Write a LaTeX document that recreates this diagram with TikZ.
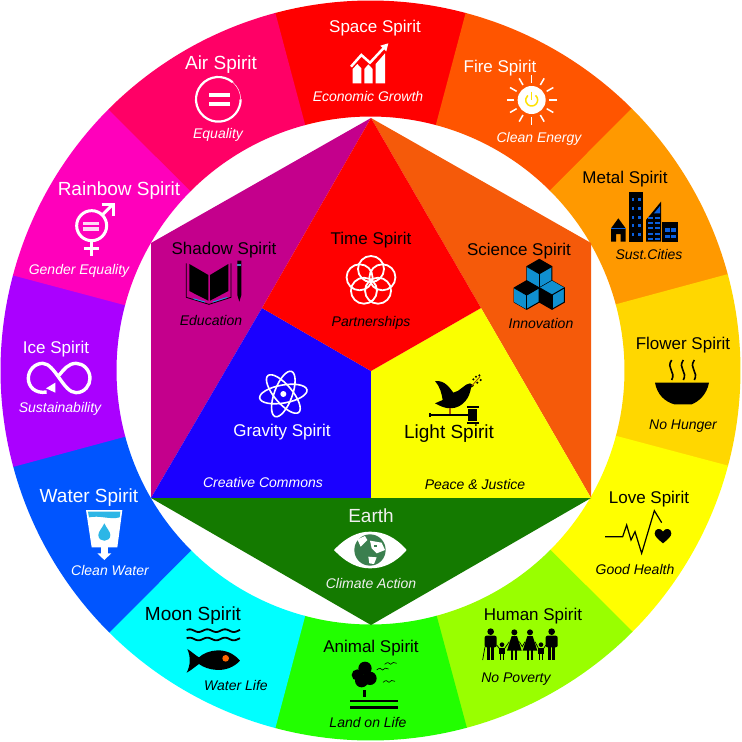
\documentclass[tikz,border=0pt]{standalone}
\usepackage{fontspec}
\setmainfont{Liberation Sans}
\definecolor{spaceCol}{HTML}{FF0000}
\definecolor{fireCol}{HTML}{FF5500}
\definecolor{metalCol}{HTML}{FF9900}
\definecolor{flowerCol}{HTML}{FFD700}
\definecolor{loveCol}{HTML}{FFFF00}
\definecolor{humanCol}{HTML}{99FF00}
\definecolor{animalCol}{HTML}{22FF00}
\definecolor{moonCol}{HTML}{00FFFF}
\definecolor{waterCol}{HTML}{0055FF}
\definecolor{iceCol}{HTML}{AA00FF}
\definecolor{rainbowCol}{HTML}{FF00BB}
\definecolor{airCol}{HTML}{FF0066}
\definecolor{shadowCol}{HTML}{C4008C}
\definecolor{gravityCol}{HTML}{1A00FF}
\definecolor{scienceCol}{HTML}{F55A0A}
\definecolor{earthCol}{HTML}{147A00}
\definecolor{lightCol}{HTML}{FAFF00}
\definecolor{globeCol}{HTML}{3B7F4F}
\definecolor{iconBlue}{HTML}{0A60E0}
\definecolor{cubeBlue}{HTML}{1090D0}
\definecolor{dropBlue}{HTML}{2DB6E6}
\tikzset{spirit/.style={font=\fontsize{17}{20}\selectfont,inner sep=0pt,text height=12pt,text depth=0pt}}
\tikzset{bigspirit/.style={font=\fontsize{19}{20}\selectfont,inner sep=0pt,text height=13pt,text depth=0pt}}
\tikzset{motto/.style={font=\fontsize{14}{16}\selectfont\itshape,inner sep=0pt,text height=10pt,text depth=0pt}}

\begin{document}
\begin{tikzpicture}[x=1pt,y=-1pt]
\useasboundingbox (0,0) rectangle (742,742);
\fill[white] (0,0) rectangle (742,742);

\begin{scope}[shift={(370.5,370.5)}]
\foreach \a/\c in {90/spaceCol,60/fireCol,30/metalCol,0/flowerCol,-30/loveCol,-60/humanCol,-90/animalCol,-120/moonCol,-150/waterCol,180/iceCol,150/rainbowCol,120/airCol}
  \fill[\c] ({\a-15.1}:254pt) arc[start angle=\a-15.1,end angle=\a+15.1,radius=254pt] -- ({\a+15.1}:370pt) arc[start angle=\a+15.1,end angle=\a-15.1,radius=370pt] -- cycle;
\end{scope}

\fill[scienceCol] (371,118) -- (591,243) -- (591,498) -- (481,308) -- cycle;
\fill[shadowCol] (371,118) -- (151,243) -- (151,498) -- (262,308) -- cycle;
\fill[gravityCol] (262,308) -- (371,371) -- (371,498) -- (151,498) -- cycle;
\fill[lightCol] (481,308) -- (371,371) -- (371,498) -- (591,498) -- cycle;
\fill[red] (371,118) -- (481,308) -- (371,371) -- (262,308) -- cycle;
\fill[earthCol] (151,498) -- (591,498) -- (371,625) -- cycle;

\node[spirit,white] (space) at (375,26) {Space Spirit};
\node[motto,white] (spaceb) at (368,96) {Economic Growth};
\node[spirit,white] (fire) at (500,66) {Fire Spirit};
\node[motto,white] (fireb) at (539,137) {Clean Energy};
\node[spirit] (metal) at (625,177) {Metal Spirit};
\node[motto] (metalb) at (649,254) {Sust.Cities};
\node[spirit] (flower) at (683,343) {Flower Spirit};
\node[motto] (flowerb) at (683,424) {No Hunger};
\node[spirit] (love) at (649,497) {Love Spirit};
\node[motto] (loveb) at (635,569) {Good Health};
\node[spirit] (human) at (533,614) {Human Spirit};
\node[motto] (humanb) at (516,677) {No Poverty};
\node[spirit] (animal) at (371,646) {Animal Spirit};
\node[motto] (animalb) at (368,722) {Land on Life};
\node[bigspirit] (moon) at (193,614) {Moon Spirit};
\node[motto] (moonb) at (236,685) {Water Life};
\node[bigspirit,white] (water) at (89,496) {Water Spirit};
\node[motto,white] (waterb) at (110,570) {Clean Water};
\node[spirit,white] (ice) at (56,347) {Ice Spirit};
\node[motto,white] (iceb) at (60,407) {Sustainability};
\node[bigspirit,white] (rainbow) at (119,189) {Rainbow Spirit};
\node[motto,white] (rainbowb) at (79,269) {Gender Equality};
\node[bigspirit,white] (air) at (221,63) {Air Spirit};
\node[motto,white] (airb) at (218,133) {Equality};
\node[spirit] (shadow) at (224,248) {Shadow Spirit};
\node[motto] (shadowb) at (211,320) {Education};
\node[spirit] (time) at (371,238) {Time Spirit};
\node[motto] (timeb) at (371,321) {Partnerships};
\node[spirit] (science) at (519,249) {Science Spirit};
\node[motto] (scienceb) at (541,323) {Innovation};
\node[spirit,white] (gravity) at (282,430) {Gravity Spirit};
\node[motto,white] (gravityb) at (263,482) {Creative Commons};
\node[bigspirit] (light) at (449,432) {Light Spirit};
\node[motto] (lightb) at (475,484) {Peace \& Justice};
\node[bigspirit,white!94!black] (earth) at (371,516) {Earth};
\node[motto,white!94!black] (earthb) at (371,583) {Climate Action};

% space and fire
\begin{scope}[shift={(270,0)},scale=1/3]
\fill[white] (248,250) -- (248,207) -- (262,192) -- (274,205) -- (274,250) -- cycle;
\fill[white] (283,250) -- (283,207) -- (295,193) -- (308,207) -- (308,250) -- cycle;
\fill[white] (317,250) -- (317,192) -- (345,160) -- (345,250) -- cycle;
\draw[white,line width=2.5pt] (243,200) -- (274,165) -- (300,188) -- (343,142);
\fill[white] (355,130) -- (331,137) -- (349,154) -- cycle;
\fill[white] (785,300) circle[radius=42];
\foreach \r in {0,30,...,330}
  \draw[white,line width=1.5pt,shift={(785,300)}] (\r:52pt) -- (\r:75pt);
\draw[yellow!85!orange,line width=1.5pt,shift={(785,300)}] (50:18pt) arc[start angle=50,end angle=-230,radius=18pt];
\draw[yellow!85!orange,line width=1.5pt] (785,275) -- (785,300);
\end{scope}

% air and rainbow
\begin{scope}[shift={(0,20)},scale=1/3]
\draw[white,line width=2.2pt,shift={(655,238)}] (50:67pt) arc[start angle=50,end angle=360,radius=67pt];
\draw[white,line width=.5pt,shift={(655,238)}] (0:67pt) arc[start angle=0,end angle=50,radius=67pt];
\fill[white] (627,220) rectangle (690,232);
\fill[white] (627,245) rectangle (690,257);
\draw[white,line width=3pt] (275,617) circle[radius=45];
\fill[white!85!rainbowCol] (250,605) rectangle (297,615);
\fill[white!85!rainbowCol] (250,622) rectangle (297,632);
\draw[white,line width=3.5pt] (275,662) -- (275,708);
\draw[white,line width=3.5pt] (252,685) -- (298,685);
\draw[white,line width=3pt] (305,587) -- (338,554);
\draw[white,line width=3pt] (305,553) -- (341,553) -- (341,588);
\end{scope}

% shadow and gravity
\begin{scope}[shift={(140,220)},scale=1/3]
\fill (148,132) -- (205,165) -- (205,242) -- (148,213) -- cycle;
\fill (210,165) -- (265,132) -- (265,213) -- (210,242) -- cycle;
\draw[line width=.8pt] (139,130) -- (139,232) -- (207,253) -- (273,232) -- (273,130);
\draw[cyan,line width=.8pt] (160,236) -- (195,246);
\draw[cyan,line width=.8pt] (218,246) -- (262,232);
\fill (292,122) -- (304,122) -- (304,225) -- (298,245) -- (292,225) -- cycle;
\fill[cyan!70!black] (292,131) rectangle (304,137);
\foreach \r in {10,70,130}
  \draw[white,line width=1.6pt,rotate around={\r:(430,522)}] (430,522) ellipse[x radius=72,y radius=27];
\fill[white] (430,522) circle[radius=9];
\end{scope}

% time
\foreach \r in {90,162,234,306,18}
  \draw[white,line width=1.8pt,shift={(371,281)}] (\r:12pt) circle[radius=13];

% science and light
\begin{scope}[shift={(370,220)},scale=1/3]
\foreach \cx/\cy/\tp/\lf in {508/161/black/cubeBlue,470/225/black/cubeBlue,546/225/cubeBlue/black}{
  \begin{scope}[shift={(\cx,\cy)},scale=1.13]
  \filldraw[fill=cubeBlue,line width=1pt] (0,-38) -- (33,-19) -- (33,19) -- (0,38) -- (-33,19) -- (-33,-19) -- cycle;
  \fill[\tp] (0,-38) -- (33,-19) -- (0,0) -- (-33,-19) -- cycle;
  \fill[\lf] (-33,-19) -- (0,0) -- (0,38) -- (-33,19) -- cycle;
  \draw[line width=1pt] (-33,-19) -- (0,0) -- (33,-19);
  \draw[line width=1pt] (0,0) -- (0,38);
  \end{scope}
}
\fill (195,483) .. controls (225,480) and (240,505) .. (250,518) .. controls (270,515) and (285,490) .. (300,490) -- (312,497) -- (303,503) .. controls (300,530) and (280,565) .. (240,565) .. controls (225,565) and (210,558) .. (195,550) -- (218,540) .. controls (215,520) and (210,500) .. (195,483) -- cycle;
\draw[orange!60!black,line width=.8pt] (305,498) -- (330,470);
\foreach \lx/\ly in {310/478,318/470,328/466,322/488,332/480}
  \fill (\lx,\ly) circle[radius=3.5];
\draw[orange!70!black,line width=1.5pt] (240,565) -- (240,582);
\draw[line width=1.5pt] (178,585) -- (295,585);
\fill (178,579) rectangle (182,591);
\fill (294,566) rectangle (322,604);
\fill (291,558) rectangle (326,564);
\fill (291,606) rectangle (326,611);
\end{scope}

% metal and flower
\begin{scope}[shift={(580,160)},scale=1/3]
\fill (93,205) -- (115,175) -- (137,205) -- (137,245) -- (122,245) -- (122,222) -- (108,222) -- (108,245) -- (93,245) -- cycle;
\fill[iconBlue] (93,203) rectangle (137,207);
\fill (147,95) rectangle (190,245);
\foreach \wy in {115,141,167,193,219} {
  \fill[iconBlue] (155,\wy) rectangle (163,\wy+9);
  \fill[iconBlue] (174,\wy) rectangle (183,\wy+9);
}
\fill (198,180) -- (243,125) -- (243,245) -- (198,245) -- cycle;
\fill[iconBlue] (222,160) -- (240,138) -- (240,160) -- cycle;
\foreach \wy in {168,183,200,218,233} {
  \fill[iconBlue] (203,\wy+2) rectangle (219,\wy+8);
  \fill[iconBlue] (224,\wy+2) rectangle (239,\wy+8);
}
\fill (247,185) rectangle (295,245);
\foreach \wy in {205,225} {
  \fill[iconBlue] (255,\wy) rectangle (269,\wy+10);
  \fill[iconBlue] (274,\wy) rectangle (289,\wy+10);
}
\fill (225,668) -- (387,668) .. controls (380,705) and (355,725) .. (335,733) -- (283,733) .. controls (255,725) and (232,705) .. (225,668) -- cycle;
\foreach \sx in {275,310,343}
  \draw[line width=1.6pt] (\sx,600) .. controls (\sx-18,625) and (\sx+14,635) .. (\sx,660);
\end{scope}

% love and human
\begin{scope}[shift={(470,470)},scale=1/3]
\draw[line width=1.2pt] (405,200) -- (458,200) -- (470,165) -- (483,210) -- (495,185) -- (515,250) -- (553,122) -- (575,158);
\fill (579,220) .. controls (565,208) and (554,200) .. (554,190) .. controls (554,175) and (572,172) .. (579,185) .. controls (586,172) and (604,175) .. (604,190) .. controls (604,200) and (593,208) .. (579,220) -- cycle;
\foreach \mx in {62,245} {
  \begin{scope}[shift={(\mx,0)}]
  \fill (0,485) circle[radius=10];
  \fill[rounded corners=2pt] (-18,497) rectangle (18,532);
  \fill (-11,525) rectangle (-2,570);
  \fill (2,525) rectangle (11,570);
  \end{scope}
}
\foreach \wx in {133,180} {
  \begin{scope}[shift={(\wx,0)}]
  \fill (0,487) circle[radius=9];
  \fill (-8,498) -- (8,498) -- (22,542) -- (-22,542) -- cycle;
  \fill (-9,540) rectangle (-3,570);
  \fill (3,540) rectangle (9,570);
  \end{scope}
}
\foreach \kx in {96,213} {
  \begin{scope}[shift={(\kx,0)}]
  \fill (0,524) circle[radius=7];
  \fill (-9,533) rectangle (9,552);
  \fill (-7,550) rectangle (-2,570);
  \fill (2,550) rectangle (7,570);
  \end{scope}
}
\draw[line width=.7pt] (45,530) -- (38,570);
\draw[line width=.7pt] (80,525) -- (90,538);
\draw[line width=.7pt] (102,538) -- (118,515);
\draw[line width=.7pt] (148,515) -- (157,530) -- (165,515);
\draw[line width=.7pt] (195,515) -- (207,538);
\draw[line width=.7pt] (219,538) -- (228,525);
\end{scope}

% earth and animal
\begin{scope}[shift={(270,500)},scale=1/3]
\fill[white] (192,150) .. controls (230,110) and (265,95) .. (300,95) .. controls (340,95) and (375,110) .. (410,150) .. controls (375,190) and (340,205) .. (300,205) .. controls (265,205) and (230,190) .. (192,150) -- cycle;
\fill[globeCol] (300,150) circle[radius=47];
\fill[white] (262,118) -- (285,108) -- (292,120) -- (272,140) -- cycle;
\fill[white] (300,122) -- (335,128) -- (345,150) -- (320,160) -- (305,145) -- cycle;
\fill[white] (295,170) -- (320,172) -- (312,192) -- (298,190) -- cycle;
\fill[globeCol] (312,135) rectangle (322,142);
\fill (285,505) circle[radius=20];
\fill (262,525) circle[radius=17];
\fill (300,535) circle[radius=20];
\fill (275,542) circle[radius=20];
\fill (280,570) rectangle (288,590);
\fill (240,600) rectangle (385,607);
\fill (240,618) rectangle (385,626);
\foreach \bx/\by in {338/507,362/490,357/544} {
  \draw[line width=.6pt,shift={(\bx,\by)}] (-18,3) .. controls (-10,-4) and (-5,-4) .. (0,3) .. controls (5,-4) and (10,-4) .. (18,0);
}
\end{scope}

% ice, water and moon
\begin{scope}[shift={(0,320)},scale=1/3]
\draw[white,line width=3.4pt] (140,216) .. controls (105,222) and (85,200) .. (85,175) .. controls (85,150) and (105,130) .. (128,130) .. controls (165,130) and (190,218) .. (228,218) .. controls (255,218) and (270,195) .. (270,175) .. controls (270,150) and (250,130) .. (228,130) .. controls (205,130) and (190,150) .. (178,165);
\fill[white] (166,188) -- (166,218) -- (138,205) -- cycle;
\fill[white] (258,570) -- (367,570) -- (352,682) -- (275,682) -- cycle;
\fill[dropBlue] (264,575) -- (361,575) -- (359,592) .. controls (330,600) and (300,585) .. (267,592) -- cycle;
\fill[dropBlue] (313,610) .. controls (320,625) and (331,635) .. (331,645) .. controls (331,668) and (295,668) .. (295,645) .. controls (295,635) and (306,625) .. (313,610) -- cycle;
\fill[white] (303,680) rectangle (323,702);
\fill[white] (292,700) -- (334,700) -- (313,720) -- cycle;
\foreach \wy in {932,957}
  \draw[line width=1.8pt] plot[domain=560:720,samples=60] (\x,{\wy+4*sin(6.8*\x)});
\fill (562,987) .. controls (575,995) and (585,1005) .. (597,1012) .. controls (620,990) and (680,975) .. (720,1022) .. controls (680,1065) and (620,1050) .. (597,1032) .. controls (585,1040) and (575,1050) .. (560,1058) .. controls (572,1035) and (572,1010) .. (562,987) -- cycle;
\fill[orange!80!red] (677,1015) circle[radius=10];
\end{scope}
\end{tikzpicture}
\end{document}
